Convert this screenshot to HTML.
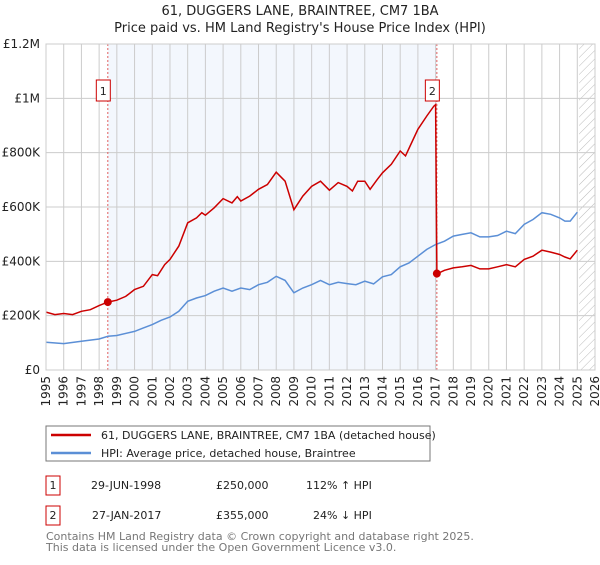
<!DOCTYPE html>
<html><head><meta charset="utf-8"><style>
body{margin:0;background:#fff;font-family:"Liberation Sans","DejaVu Sans",sans-serif;}
svg text{font-family:"DejaVu Sans","Liberation Sans",sans-serif;}
</style></head><body>
<svg id="c" width="600" height="560" xmlns="http://www.w3.org/2000/svg">
<defs><pattern id="hatch" width="6" height="6" patternUnits="userSpaceOnUse" patternTransform="rotate(45)"><line x1="0" y1="0" x2="0" y2="6" stroke="#bbb" stroke-width="1"/></pattern></defs>
<text x="300" y="15" text-anchor="middle" font-size="13" fill="#222">61, DUGGERS LANE, BRAINTREE, CM7 1BA</text>
<text x="300" y="32" text-anchor="middle" font-size="13" fill="#222">Price paid vs. HM Land Registry's House Price Index (HPI)</text>
<g id="plot"></g>
<g>
<rect x="46" y="426" width="384" height="35" fill="#fff" stroke="#777"/>
<line x1="51" y1="435" x2="91" y2="435" stroke="#cc0000" stroke-width="2.5"/>
<text x="101" y="439" font-size="11" fill="#222">61, DUGGERS LANE, BRAINTREE, CM7 1BA (detached house)</text>
<line x1="51" y1="453" x2="91" y2="453" stroke="#5b8fd6" stroke-width="2.5"/>
<text x="101" y="457" font-size="11" fill="#222">HPI: Average price, detached house, Braintree</text>
</g>
<g font-size="11" fill="#222">
<rect x="46" y="476" width="14" height="19" fill="#fff" stroke="#cc0000"/><text x="53" y="489" text-anchor="middle">1</text>
<text x="91" y="489">29-JUN-1998</text><text x="216" y="489">£250,000</text><text x="306" y="489">112% ↑ HPI</text>
<rect x="46" y="506" width="14" height="19" fill="#fff" stroke="#cc0000"/><text x="53" y="519" text-anchor="middle">2</text>
<text x="92" y="519">27-JAN-2017</text><text x="216" y="519">£355,000</text><text x="313" y="519">24% ↓ HPI</text>
</g>
<text x="46" y="540" font-size="11" fill="#777">Contains HM Land Registry data © Crown copyright and database right 2025.</text>
<text x="46" y="551" font-size="11" fill="#777">This data is licensed under the Open Government Licence v3.0.</text>
</svg>
<script>
const hpiYears=[1995,1996,1997,1998,1998.5,1999,2000,2000.5,2001,2001.5,2002,2002.5,2003,2003.5,2004,2004.5,2005,2005.5,2006,2006.5,2007,2007.5,2008,2008.5,2009,2009.5,2010,2010.5,2011,2011.5,2012,2012.5,2013,2013.5,2014,2014.5,2015,2015.5,2016,2016.5,2017,2017.5,2018,2018.5,2019,2019.5,2020,2020.5,2021,2021.5,2022,2022.5,2023,2023.5,2024,2024.3,2024.6,2025];
const hpiValues=[102,97,106,114,124,127,142,155,167,183,195,216,253,265,274,290,302,290,302,296,314,323,345,330,284,302,314,330,314,323,318,314,327,317,343,351,380,394,419,444,462,474,493,499,505,490,490,495,511,502,536,554,579,573,560,548,548,581];
const priceYears=[1995,1995.5,1996,1996.5,1997,1997.5,1998,1998.49,1999,1999.5,2000,2000.5,2001,2001.3,2001.7,2002,2002.5,2003,2003.5,2003.8,2004,2004.5,2005,2005.5,2005.8,2006,2006.5,2007,2007.5,2008,2008.5,2009,2009.5,2010,2010.5,2011,2011.5,2012,2012.3,2012.6,2013,2013.3,2013.7,2014,2014.5,2015,2015.3,2015.6,2016,2016.5,2016.9,2017.0,2017.07,2017.5,2018,2018.5,2019,2019.5,2020,2020.5,2021,2021.5,2022,2022.5,2023,2023.5,2024,2024.3,2024.6,2025];
const priceValues=[213,204,208,204,216,222,237,250,257,271,296,308,351,347,388,407,456,542,560,579,570,597,631,615,638,622,640,665,683,728,695,590,640,676,695,662,690,676,659,695,695,665,701,726,757,806,788,830,886,935,971,977,354,367,376,380,385,372,372,380,388,380,407,419,441,434,425,416,409,441];
const saleYears=[1998.49,2017.07];
const saleValues=[250,355];
const saleLabels=["1","2"];
const yTicks=[0,200,400,600,800,1000,1200];
const yTickLabels=["£0","£200K","£400K","£600K","£800K","£1M","£1.2M"];
const xTickYears=[1995,1996,1997,1998,1999,2000,2001,2002,2003,2004,2005,2006,2007,2008,2009,2010,2011,2012,2013,2014,2015,2016,2017,2018,2019,2020,2021,2022,2023,2024,2025,2026];

const L=46,R=595,T=44,B=370;
const x=v=>L+(v-1995)/(2026-1995)*(R-L);
const y=v=>B-v/1200*(B-T);
const g=document.getElementById('plot');
const NS='http://www.w3.org/2000/svg';
function mk(tag,at){const e=document.createElementNS(NS,tag);for(const k in at)e.setAttribute(k,at[k]);g.appendChild(e);return e;}
let e;
e=mk('rect',{x:L,y:T,width:R-L,height:B-T,fill:'#fff'});


e=mk('rect',{x:x(saleYears[0]),y:T,width:x(saleYears[1])-x(saleYears[0]),height:B-T,fill:'#eef3fc',opacity:0.7});


e=mk('rect',{x:x(2025.1),y:T,width:R-x(2025.1),height:B-T,fill:'url(#hatch)'});


xTickYears.forEach(yr=>{
 e=mk('line',{x1:x(yr),x2:x(yr),y1:T,y2:B,stroke:'#ccc','stroke-width':1});
 
 
 e=mk('text',{x:0,y:0,'font-size':12,fill:'#222','text-anchor':'end',transform:`translate(${x(yr)+4},${B+6}) rotate(-90)`});
 e.textContent=yr;
 
 
});
yTicks.forEach((v,i)=>{
 e=mk('line',{x1:L,x2:R,y1:y(v),y2:y(v),stroke:'#ccc','stroke-width':1});
 
 
 e=mk('text',{x:L-6,y:y(v)+4,'font-size':12,fill:'#222','text-anchor':'end'});
 e.textContent=yTickLabels[i];
 
 
});
saleYears.forEach((yr,i)=>{
 e=mk('line',{x1:x(yr),x2:x(yr),y1:T,y2:B,stroke:'#e06060','stroke-width':1,'stroke-dasharray':'2,2'});
 
 
});
const pts=(xs,vs)=>xs.map((a,i)=>x(a).toFixed(1)+','+y(vs[i]).toFixed(1)).join(' ');
e=mk('polyline',{points:pts(hpiYears,hpiValues),fill:'none',stroke:'#5b8fd6','stroke-width':1.5});


e=mk('polyline',{points:pts(priceYears,priceValues),fill:'none',stroke:'#cc0000','stroke-width':1.5});


saleYears.forEach((yr,i)=>{
 e=mk('circle',{cx:x(yr),cy:y(saleValues[i]),r:4,fill:'#cc0000'});
 
 
 const bx=x(yr)-4.5;
 e=mk('rect',{x:bx-7,y:80,width:14,height:21,fill:'#fff',stroke:'#cc0000'});
 
 
 e=mk('text',{x:bx,y:95,'font-size':11,fill:'#222','text-anchor':'middle'});
 e.textContent=saleLabels[i];
 
 
});
e=mk('rect',{x:L,y:T,width:R-L,height:B-T,fill:'none',stroke:'#ccc'});


</script>
</body></html>
